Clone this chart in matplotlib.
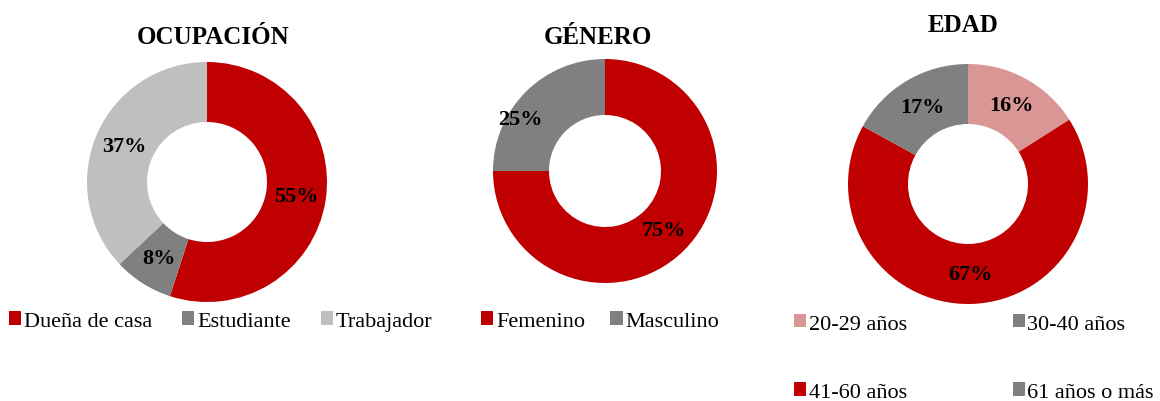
import matplotlib
matplotlib.use('Agg')
import matplotlib.pyplot as plt
from matplotlib.patches import Patch

plt.rcParams['font.family'] = ['Liberation Serif', 'DejaVu Serif']

# data
ocup_labels = ['Dueña de casa', 'Estudiante', 'Trabajador']
ocup_values = [55, 8, 37]
ocup_colors = ['#C00000', '#808080', '#BFBFBF']

gen_labels = ['Femenino', 'Masculino']
gen_values = [75, 25]
gen_colors = ['#C00000', '#808080']

edad_labels = ['20-29 años', '30-40 años', '41-60 años', '61 años o más']
edad_values = [16, 0, 67, 17]
edad_colors = ['#D99694', '#808080', '#C00000', '#808080']

W, H = 1160, 402
fig = plt.figure(figsize=(W / 100, H / 100), dpi=100)


def donut(cx, cy, r, values, colors, title, tx, ty):
    ax = fig.add_axes([(cx - r) / W, 1 - (cy + r) / H, 2 * r / W, 2 * r / H])
    wedges, _, autotexts = ax.pie(
        values, colors=colors, startangle=90, counterclock=False, radius=1,
        wedgeprops=dict(width=0.5, edgecolor='none'),
        autopct=lambda p: f'{p:.0f}%' if p > 0.5 else '', pctdistance=0.75)
    for t in autotexts:
        t.set_fontsize(16)
        t.set_fontweight('bold')
        t.set_color('black')
    ax.set_xlim(-1, 1)
    ax.set_ylim(-1, 1)
    ax.set_aspect('equal')
    ax.axis('off')
    fig.text(tx / W, 1 - ty / H, title, ha='center', va='center',
             fontsize=18, fontweight='bold')
    return wedges, autotexts


def legend(labels, colors, x, y, ncol, **kw):
    handles = [Patch(facecolor=c, edgecolor='none') for c in colors]
    fig.legend(handles, labels, loc='center left', bbox_to_anchor=(x / W, 1 - y / H),
               ncol=ncol, frameon=False, fontsize=16, handlelength=0.55,
               handleheight=0.55, handletextpad=0.12, borderpad=0, borderaxespad=0,
               **kw)


donut(207, 183, 120, ocup_values, ocup_colors, 'OCUPACIÓN', 213, 38)
_, gen_texts = donut(605, 172, 112, gen_values, gen_colors, 'GÉNERO', 598, 38)
# the small slice label sits a little further out in the original
gen_texts[1].set_position((-0.76, 0.46))
donut(968, 185, 120, edad_values, edad_colors, 'EDAD', 963, 25)

legend(ocup_labels, ocup_colors, 9, 322, 3, columnspacing=1.35)
legend(gen_labels, gen_colors, 481, 322, 2, columnspacing=1.15)

# reorder so the rows read 20-29 / 30-40, then 41-60 / 61+
order = [0, 2, 1, 3]
legend([edad_labels[i] for i in order], [edad_colors[i] for i in order],
       794, 359, 2, columnspacing=4.75, labelspacing=2.2)

fig.savefig('out.png', dpi=100)
